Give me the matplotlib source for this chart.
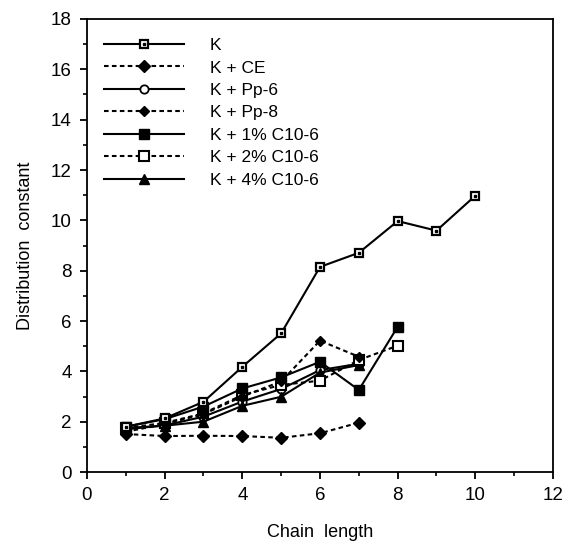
import matplotlib
matplotlib.use("Agg")
import matplotlib.pyplot as plt
from matplotlib.legend_handler import HandlerTuple
from matplotlib.ticker import MultipleLocator

plt.rcParams['font.family'] = ['Liberation Sans', 'DejaVu Sans']

# chain lengths
x_k = [1, 2, 3, 4, 5, 6, 7, 8, 9, 10]
x_7 = [1, 2, 3, 4, 5, 6, 7]
x_8 = [1, 2, 3, 4, 5, 6, 7, 8]

# distribution constants
k_only = [1.80, 2.13, 2.79, 4.18, 5.51, 8.15, 8.71, 9.97, 9.59, 10.98]
k_ce = [1.51, 1.43, 1.44, 1.43, 1.36, 1.54, 1.96]
k_pp6 = [1.70, 1.85, 2.20, 2.80, 3.30, 4.05, 4.30]
k_pp8 = [1.60, 1.90, 2.30, 3.00, 3.60, 5.22, 4.58]
k_c1 = [1.80, 2.10, 2.60, 3.32, 3.76, 4.38, 3.26, 5.77]
k_c2 = [1.75, 1.95, 2.33, 3.06, 3.46, 3.63, 4.45, 5.02]
k_c4 = [1.75, 1.84, 2.00, 2.63, 2.99, 3.95, 4.25]

labels = ["K", "K + CE", "K + Pp-6", "K + Pp-8",
          "K + 1% C10-6", "K + 2% C10-6", "K + 4% C10-6"]

fig = plt.figure(figsize=(5.66, 5.41), dpi=100)
ax = fig.add_axes([0.1537, 0.1275, 0.8233, 0.8374])

lw = 1.5
dash = (0, (2.2, 1.6))

h_ce, = ax.plot(x_7, k_ce, linestyle=dash, color='k', lw=lw,
                marker='D', ms=6, mfc='k', mec='k')
h_pp6, = ax.plot(x_7, k_pp6, '-', color='k', lw=lw,
                 marker='o', ms=6, mfc='white', mec='k', mew=1.3)
h_c4, = ax.plot(x_7, k_c4, '-', color='k', lw=lw,
                marker='^', ms=7, mfc='k', mec='k')
h_c2, = ax.plot(x_8, k_c2, linestyle=dash, color='k', lw=lw,
                marker='s', ms=7, mfc='white', mec='k', mew=1.5)
h_pp8, = ax.plot(x_7, k_pp8, linestyle=dash, color='k', lw=lw,
                 marker='D', ms=5, mfc='k', mec='k')
h_c1, = ax.plot(x_8, k_c1, '-', color='k', lw=lw,
                marker='s', ms=7, mfc='k', mec='k')
h_k, = ax.plot(x_k, k_only, '-', color='k', lw=lw,
               marker='s', ms=6, mfc='white', mec='k', mew=1.6)
h_kdot, = ax.plot(x_k, k_only, linestyle='none', marker='s', ms=1.6,
                  mfc='k', mec='k')

handles = [(h_k, h_kdot), h_ce, h_pp6, h_pp8, h_c1, h_c2, h_c4]
ax.legend(handles, labels, loc='upper left', bbox_to_anchor=(0.01, 0.985),
          frameon=False, fontsize=12.5, handlelength=4.6, handletextpad=1.5,
          labelspacing=0.42, borderaxespad=0.3,
          handler_map={tuple: HandlerTuple(ndivide=1)})

ax.set_xlim(0, 12)
ax.set_ylim(0, 18)
ax.xaxis.set_major_locator(MultipleLocator(2))
ax.xaxis.set_minor_locator(MultipleLocator(1))
ax.yaxis.set_major_locator(MultipleLocator(2))
ax.yaxis.set_minor_locator(MultipleLocator(1))
ax.tick_params(which='major', direction='out', length=5, width=1.3,
               labelsize=13.5, pad=6)
ax.tick_params(which='minor', direction='out', length=3, width=1.2)
for sp in ax.spines.values():
    sp.set_linewidth(1.3)

ax.set_xlabel("Chain  length", fontsize=13, labelpad=14)
ax.set_ylabel("Distribution  constant", fontsize=13, labelpad=12)

fig.savefig("out.png", dpi=100)
